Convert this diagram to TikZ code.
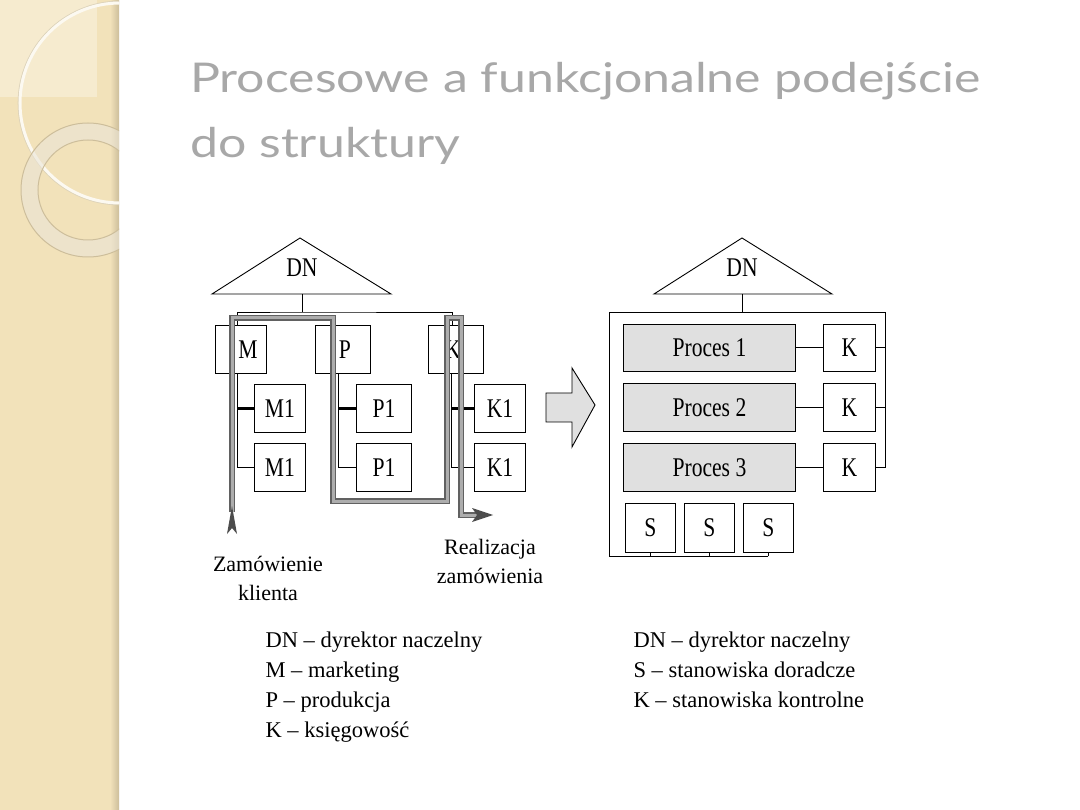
\documentclass[tikz,border=0pt]{standalone}
\usepackage{graphicx}
\usepackage{fontspec}
\setmainfont{Liberation Serif}
\newfontfamily\titlefont{Lato}
\usetikzlibrary{arrows.meta}
\definecolor{beige}{RGB}{242,226,186}
\definecolor{beigelight}{RGB}{246,235,207}
\definecolor{beigedark}{RGB}{205,190,155}
\definecolor{titlegray}{RGB}{168,168,168}
\definecolor{hatch}{RGB}{224,224,224}
\newcommand\cond[1]{\scalebox{0.8}[1]{#1}}
\newcommand\wide[1]{\scalebox{1.22}[1]{#1}}
\tikzset{
  every picture/.style={x=1pt,y=-1pt},
  box/.style={draw, line width=0.9pt, inner sep=0pt, anchor=north west, font=\fontsize{27}{30}\selectfont},
  pbox/.style={box, fill=hatch},
  conn/.style={line width=0.9pt},
  thickconn/.style={line width=2.4pt},
  bandout/.style={line width=6pt, black!62},
  bandin/.style={line width=3pt, black!32},
  boxtext/.style={font=\fontsize{27}{30}\selectfont, inner sep=0pt},
  diagtext/.style={font=\fontsize{22}{29}\selectfont, align=center},
  legend/.style={font=\fontsize{22.5}{30}\selectfont, align=left, anchor=north west},
  titletext/.style={anchor=base west, text=titlegray, font=\titlefont\fontsize{41}{48}\selectfont, inner sep=0},
}
\begin{document}
\begin{tikzpicture}
\useasboundingbox (0,0) rectangle (1080,810);
\fill[white] (0,0) rectangle (1080,810);
% sidebar
\begin{scope}
\clip (0,0) rectangle (119,810);
\fill[beige] (0,0) rectangle (119,810);
\fill[beigelight] (0,0) rectangle (97,97);
\shade[left color=beige, right color=beigedark] (110,0) rectangle (119,810);
\draw[line width=1pt, beigedark!70] (120,103) circle (101.8);
\draw[line width=3pt, white!80!beige] (120,103) circle (100);
\fill[beigedark!40, opacity=0.6, even odd rule] (88,190) circle (67) (88,190) circle (50);
\draw[beigedark, line width=1pt] (88,190) circle (67) (88,190) circle (50);
\end{scope}
% title
\node[titletext] (title1) at (190,93) {\wide{Procesowe a funkcjonalne podejście}};
\node[titletext] (title2) at (190,158) {\wide{do struktury}};

% ===== left diagram =====
\draw[line width=0.9pt] (212,294) -- (300,238) -- (391,294) -- cycle;
\node[boxtext] (dnl) at (302,268) {\cond{DN}};
\coordinate (dnlb) at (302,294);
\coordinate (busl) at (302,312);
\node[box, minimum width=51pt, minimum height=48pt] (M) at (215,325) {};
\node[boxtext] (Mt) at (248,350) {\cond{M}};
\node[box, minimum width=55pt, minimum height=48pt] (P) at (315,325) {};
\node[boxtext] (Pt) at (345,350) {\cond{P}};
\node[box, minimum width=55pt, minimum height=48pt] (K) at (428,325) {};
\node[boxtext] (Kt) at (453,350) {\cond{K}};
\node[box, minimum width=51pt, minimum height=48pt] (M1a) at (254,384) {\cond{M1}};
\node[box, minimum width=51pt, minimum height=48pt] (M1b) at (254,443) {\cond{M1}};
\node[box, minimum width=55pt, minimum height=48pt] (P1a) at (356,384) {\cond{P1}};
\node[box, minimum width=55pt, minimum height=48pt] (P1b) at (356,443) {\cond{P1}};
\node[box, minimum width=51pt, minimum height=48pt] (K1a) at (474,384) {\cond{K1}};
\node[box, minimum width=51pt, minimum height=48pt] (K1b) at (474,443) {\cond{K1}};
\draw[conn] (dnlb) -- (busl);
\draw[conn] (M.north -| 237,0) |- (busl) -| (K.north -| 452,0);
\draw[conn] (M.south -| 237,0) |- (M1b.west);
\draw[thickconn] (M1a.west -| 237,0) -- (M1a.west);
\draw[conn] (P.south -| 338,0) |- (P1b.west);
\draw[thickconn] (P1a.west -| 338,0) -- (P1a.west);
\draw[conn] (K.south -| 451,0) |- (K1b.west);
\draw[thickconn] (K1a.west -| 451,0) -- (K1a.west);
% process band
\coordinate (bandstart) at (232,512);
\coordinate (bandend) at (478,515);
\draw[bandout, line join=miter] (bandstart) -- (232,318) -- (333,318) -- (333,501) -- (447,501) -- (447,318) -- (461,318) -- (461,515) -- (bandend);
\draw[bandin, line join=miter] (bandstart) -- (232,318) -- (333,318) -- (333,501) -- (447,501) -- (447,318) -- (461,318) -- (461,515) -- (bandend);
\fill[black!70] (232,506) -- (237,534) -- (232,528) -- (227,534) -- cycle;
\fill[black!70] (493,515) -- (472,508) -- (477,515) -- (472,522) -- cycle;
\node[diagtext] (zam) at (268,578) {Zamówienie\\klienta};
\node[diagtext] (real) at (490,561) {Realizacja\\zamówienia};

% big arrow
\draw[line width=0.9pt, fill=hatch] (546,393) -- (572,393) -- (572,368) -- (595,405) -- (572,447) -- (572,422) -- (546,422) -- cycle;

% ===== right diagram =====
\draw[line width=0.9pt] (654,294) -- (742,238) -- (832,294) -- cycle;
\node[boxtext] (dnr) at (742,268) {\cond{DN}};
\coordinate (dnrb) at (742,294);
\coordinate (frt) at (742,312);
\node[pbox, minimum width=172pt, minimum height=47pt] (pr1) at (623,324) {\cond{Proces 1}};
\node[pbox, minimum width=172pt, minimum height=48pt] (pr2) at (623,383) {\cond{Proces 2}};
\node[pbox, minimum width=172pt, minimum height=48pt] (pr3) at (623,443) {\cond{Proces 3}};
\node[box, minimum width=52pt, minimum height=47pt] (k1) at (823,324) {\cond{K}};
\node[box, minimum width=52pt, minimum height=48pt] (k2) at (823,383) {\cond{K}};
\node[box, minimum width=52pt, minimum height=48pt] (k3) at (823,443) {\cond{K}};
\node[box, minimum width=50pt, minimum height=49pt] (s1) at (625,503) {\cond{S}};
\node[box, minimum width=50pt, minimum height=49pt] (s2) at (684,503) {\cond{S}};
\node[box, minimum width=50pt, minimum height=49pt] (s3) at (743,503) {\cond{S}};
\draw[conn] (dnrb) -- (frt);
\draw[conn] (s3.south |- 0,556) -- (609,556) -- (609,312) -- (885,312) |- (k3.east);
\draw[conn] (k1.east) -- (k1.east -| 885,0);
\draw[conn] (k2.east) -- (k2.east -| 885,0);
\draw[conn] (s1.south) -- (s1.south |- 0,556);
\draw[conn] (s2.south) -- (s2.south |- 0,556);
\draw[conn] (s3.south) -- (s3.south |- 0,556);
\draw[conn] (pr1) -- (k1);
\draw[conn] (pr2) -- (k2);
\draw[conn] (pr3) -- (k3);

% legends
\node[legend] (legl) at (262,628) {DN – dyrektor naczelny\\M – marketing\\P – produkcja\\K – księgowość};
\node[legend] (legr) at (630,628) {DN – dyrektor naczelny\\S – stanowiska doradcze\\K – stanowiska kontrolne};
\end{tikzpicture}
\end{document}
